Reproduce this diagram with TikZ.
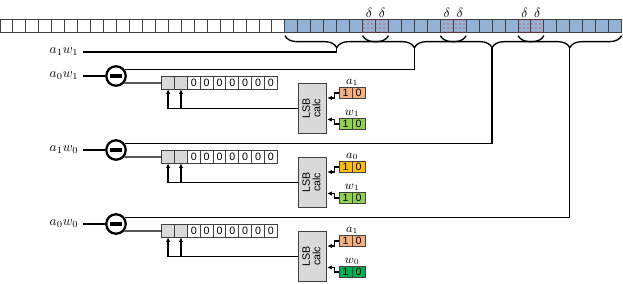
\documentclass[tikz,border=0pt]{standalone}
\usepackage{fontspec}
\setsansfont{Liberation Sans}
\usepackage{graphicx}
\usepackage{tikz}
\usetikzlibrary{positioning,arrows.meta,calc,patterns,decorations.pathreplacing}
\usepackage{xcolor}
\definecolor{blu}{rgb}{0.58,0.70,0.84}
\definecolor{aone}{rgb}{0.96,0.69,0.51}
\definecolor{azero}{rgb}{1.00,0.75,0.00}
\definecolor{wone}{rgb}{0.57,0.82,0.31}
\definecolor{wzero}{rgb}{0.00,0.69,0.31}
\definecolor{gry}{rgb}{0.85,0.85,0.85}
\definecolor{edge}{rgb}{0.25,0.25,0.25}
\newcommand{\lsbtext}{\rotatebox{90}{\begin{tabular}{@{}c@{}}LSB\\[-1.5pt]calc\end{tabular}}}

\begin{document}
\begin{tikzpicture}[
    x=0.75pt, y=-0.75pt,
    every node/.style={font=\normalsize},
    cell/.style={
        rectangle, draw=edge, line width=0.7pt, fill=white,
        inner sep=0pt, outer sep=0pt, minimum width=9.71pt, minimum height=10pt
    },
    blucell/.style={cell, fill=blu},
    dltcell/.style={blucell, postaction={pattern=dots, pattern color=red}},
    regcell/.style={cell, minimum width=9.64pt, minimum height=9.3pt, font=\sffamily\footnotesize},
    lowcell/.style={regcell, fill=gry},
    opcell/.style={cell, minimum width=9.64pt, minimum height=8.3pt, font=\sffamily\footnotesize},
    oplab/.style={anchor=south, inner sep=1pt, font=\small},
    prod/.style={anchor=east},
    subtr/.style={circle, draw, line width=1.7pt, fill=white, inner sep=0pt, minimum size=14.6pt},
    lsbbox/.style={
        rectangle, draw=edge, line width=0.7pt, fill=gry, inner sep=0pt,
        minimum width=21.2pt, minimum height=36.8pt, font=\sffamily\footnotesize
    },
    wire/.style={line width=1pt},
    arr/.style={wire, -{Latex[length=3.5pt,width=3.2pt]}},
    brc/.style={decorate, decoration={brace, mirror, amplitude=9pt, raise=2.5pt}, line width=1pt}
]
\useasboundingbox (0,0) rectangle (623,284);

% ── accumulator word: 22 empty + 26 filled cells ────────────
\foreach \i in {0,...,21}
  \node[cell] (c\i) at ({6.475+12.95*\i},25.65) {};
\foreach \i in {22,...,47}
  \node[blucell] (c\i) at ({6.475+12.95*\i},25.65) {};
\foreach \i in {28,29,34,35,40,41} {
  \node[dltcell] (c\i) at ({6.475+12.95*\i},25.65) {};
  \node[anchor=south, inner sep=1pt] (d\i) at (c\i.north) {$\delta$};
}

% ── overlapping fields (share the delta cells) ──────────────
\foreach \s/\e [count=\k] in {22/29,28/35,34/41,40/47} {
  \draw[brc] (c\s.south west) -- (c\e.south east);
  \coordinate (tip\k) at ($(c\s.south west)!0.5!(c\e.south east) + (0,15.3)$);
}

% ── lowest field: a1 w1 ─────────────────────────────────────
\node[prod] (p0) at (83,52) {$a_1w_1$};
\draw[wire] (tip1) |- (p0);

% ── the other fields: subtract, then LSB correction ─────────
\foreach \g/\y/\prd/\aname/\acol/\wname/\wcol in {
    1/76/{a_0w_1}/{a_1}/aone/{w_1}/wone,
    2/150/{a_1w_0}/{a_0}/azero/{w_1}/wone,
    3/224/{a_0w_0}/{a_1}/aone/{w_0}/wzero} {
  \pgfmathtruncatemacro{\nt}{\g+1}
  \node[prod] (p\g) at (83,\y) {$\prd$};
  \node[subtr] (sub\g) at (116,\y) {\rule[-1.25pt]{8.5pt}{2.5pt}};
  \draw[wire] (p\g) -- (sub\g);
  \draw[wire] (tip\nt) |- (sub\g.35);
  % result register
  \foreach \i in {0,...,8} {
    \ifnum\i<2
      \node[lowcell] (r\g-\i) at ({168.1+12.85*\i},{\y+7}) {};
    \else
      \node[regcell] (r\g-\i) at ({168.1+12.85*\i},{\y+7}) {0};
    \fi
  }
  \draw[wire] (sub\g.-40) -- (r\g-0.west);
  % LSB unit and its operands
  \node[lsbbox] (lsb\g) at (312.6,{\y+32.5}) {\lsbtext};
  \draw[arr] (lsb\g.west) -| (r\g-0.south);
  \draw[arr] (r\g-1.south |- lsb\g.west) -- (r\g-1.south);
  \node[opcell, fill=\acol] (a\g-0) at (345.7,{\y+17}) {1};
  \node[opcell, fill=\acol, right=0pt of a\g-0] (a\g-1) {0};
  \node[oplab] (la\g) at (a\g-0.north east) {$\aname$};
  \node[opcell, fill=\wcol] (w\g-0) at (345.7,{\y+48}) {1};
  \node[opcell, fill=\wcol, right=0pt of w\g-0] (w\g-1) {0};
  \node[oplab] (lw\g) at (w\g-0.north east) {$\wname$};
  \draw[arr] (a\g-0.west) -- ++(-4.5,0) |- ($(lsb\g.north east)!0.29!(lsb\g.south east)$);
  \draw[arr] (w\g-0.west) -- ++(-4.5,0) |- ($(lsb\g.north east)!0.72!(lsb\g.south east)$);
}

\end{tikzpicture}
\end{document}
